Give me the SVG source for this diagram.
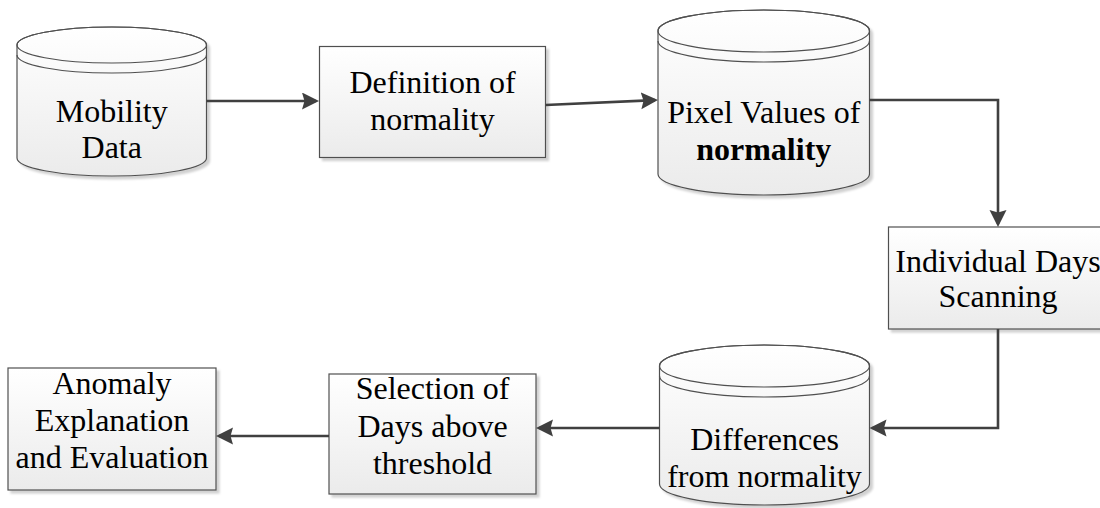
<svg xmlns="http://www.w3.org/2000/svg" width="1100" height="508" viewBox="0 0 1100 508">
<defs>
<linearGradient id="fillGrad" x1="0" y1="0" x2="0" y2="1">
<stop offset="0" stop-color="#ffffff"/>
<stop offset="1" stop-color="#ebebeb"/>
</linearGradient>
<filter id="shadow" x="-10%" y="-10%" width="125%" height="125%">
<feDropShadow dx="3" dy="3" stdDeviation="1" flood-color="#000000" flood-opacity="0.18"/>
</filter>
<marker id="arrow" markerUnits="userSpaceOnUse" markerWidth="18" markerHeight="18" refX="14" refY="8.5" orient="auto">
<path d="M0,0 L17,8.5 L0,17 L2.5,8.5 Z" fill="#404040"/>
</marker>
<style>
.shape{fill:url(#fillGrad);stroke:#505050;stroke-width:1.2;filter:url(#shadow)}
.line{fill:none;stroke:#505050;stroke-width:1.2}
.conn{fill:none;stroke:#404040;stroke-width:2.6;marker-end:url(#arrow)}
.lbl{font-family:"Liberation Serif","Times New Roman",serif;font-size:32px;fill:#000;text-anchor:middle}
.bold{font-weight:bold}
</style>
</defs>

<g id="mobility-data">
<path class="shape" d="M17,45 V158 A94.75,18 0 0 0 206.5,158 V45 A94.75,18 0 0 0 17,45 Z"/>
<ellipse class="line" cx="111.75" cy="45" rx="94.75" ry="18"/>
<path class="line" d="M17,55 A94.75,18 0 0 0 206.5,55"/>
<text class="lbl" x="111.75" y="122">Mobility</text>
<text class="lbl" x="111.75" y="158">Data</text>
</g>

<g id="definition-of-normality">
<rect class="shape" x="319.5" y="46.5" width="226" height="111"/>
<text class="lbl" x="432.5" y="93">Definition of</text>
<text class="lbl" x="432.5" y="130">normality</text>
</g>

<g id="pixel-values">
<path class="shape" d="M658,31 V174 A105.75,21 0 0 0 869.5,174 V31 A105.75,21 0 0 0 658,31 Z"/>
<ellipse class="line" cx="763.75" cy="31" rx="105.75" ry="21"/>
<path class="line" d="M658,41 A105.75,21 0 0 0 869.5,41"/>
<text class="lbl" x="763.75" y="123">Pixel Values of</text>
<text class="lbl bold" x="763.75" y="160">normality</text>
</g>

<g id="individual-days-scanning">
<rect class="shape" x="888.5" y="227" width="220" height="102"/>
<text class="lbl" x="998" y="271.5">Individual Days</text>
<text class="lbl" x="998" y="307">Scanning</text>
</g>

<g id="differences-from-normality">
<path class="shape" d="M659.5,366 V484 A105,21 0 0 0 869.5,484 V366 A105,21 0 0 0 659.5,366 Z"/>
<ellipse class="line" cx="764.5" cy="366" rx="105" ry="21"/>
<path class="line" d="M659.5,376 A105,21 0 0 0 869.5,376"/>
<text class="lbl" x="764.5" y="450">Differences</text>
<text class="lbl" x="764.5" y="487">from normality</text>
</g>

<g id="selection-of-days">
<rect class="shape" x="329" y="374" width="207" height="120"/>
<text class="lbl" x="432.5" y="399">Selection of</text>
<text class="lbl" x="432.5" y="436.5">Days above</text>
<text class="lbl" x="432.5" y="474">threshold</text>
</g>

<g id="anomaly-explanation">
<rect class="shape" x="8" y="368" width="208" height="122"/>
<text class="lbl" x="112" y="394">Anomaly</text>
<text class="lbl" x="112" y="431">Explanation</text>
<text class="lbl" x="112" y="468">and Evaluation</text>
</g>

<g id="connectors">
<path class="conn" d="M206.5,101 H316"/>
<path class="conn" d="M545.5,105 L655,100.13"/>
<path class="conn" d="M869.5,100 H998 V224"/>
<path class="conn" d="M998,329 V428 H872.5"/>
<path class="conn" d="M659.5,428 H539"/>
<path class="conn" d="M329,436 H219"/>
</g>
</svg>
